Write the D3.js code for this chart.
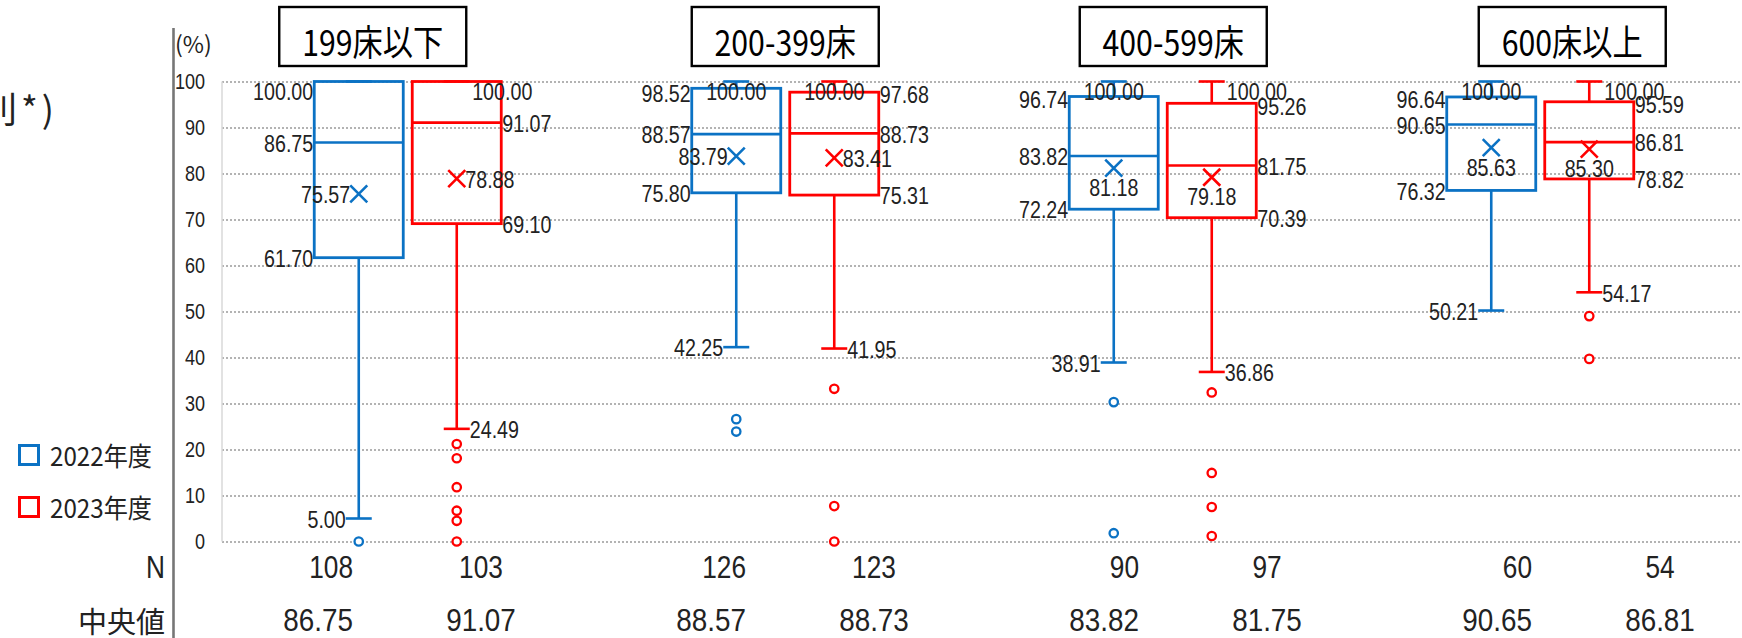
<!DOCTYPE html>
<html>
<head>
<meta charset="utf-8">
<script src="https://cdn.jsdelivr.net/npm/d3@7"></script>
<style>
  body { margin: 0; background: #fff; }
  svg { display: block; }
</style>
</head>
<body>
<svg id="chart" width="1742" height="638"></svg>
<script>
// ---- data ----
const groups = ["199床以下", "200-399床", "400-599床", "600床以上"];
const years = ["2022年度", "2023年度"];
const yTicks = [0, 10, 20, 30, 40, 50, 60, 70, 80, 90, 100];

const high2022   = [100.00, 100.00, 100.00, 100.00];
const q3_2022    = [100.00, 98.52, 96.74, 96.64];
const median2022 = [86.75, 88.57, 83.82, 90.65];
const mean2022   = [75.57, 83.79, 81.18, 85.63];
const q1_2022    = [61.70, 75.80, 72.24, 76.32];
const low2022    = [5.00, 42.25, 38.91, 50.21];
const outliers2022 = [[0.0], [26.6, 23.9], [30.3, 1.8], []];
const n2022 = [108, 126, 90, 60];

const high2023   = [100.00, 100.00, 100.00, 100.00];
const q3_2023    = [100.00, 97.68, 95.26, 95.59];
const median2023 = [91.07, 88.73, 81.75, 86.81];
const mean2023   = [78.88, 83.41, 79.18, 85.30];
const q1_2023    = [69.10, 75.31, 70.39, 78.82];
const low2023    = [24.49, 41.95, 36.86, 54.17];
const outliers2023 = [[21.2, 18.1, 11.8, 6.7, 4.5, 0.0], [33.2, 7.7, 0.0], [32.4, 14.9, 7.5, 1.2], [49.0, 39.7]];
const n2023 = [103, 123, 97, 54];

// ---- label placement ----
const maxPos2022  = ["none", "center", "center", "center"];
const maxPos2023  = ["edge", "center", "right", "right"];
const meanPos2022 = ["left", "left", "below", "below"];
const meanPos2023 = ["right", "right", "below", "below"];
const titleShift  = [-35, 0, 10.5, 32];

// ---- styles ----
const BLUE = "#0b72c4";
const RED = "#ff0000";
const TEXT = "#222";
const NUM_FONT = '"Liberation Sans", Arial, sans-serif';
const JP_FONT = '"Noto Sans CJK JP", "Noto Sans CJK SC", sans-serif';
const K_NUM = 0.82;   // horizontal squeeze for the narrow numerals

const series = [
  { year: years[0], color: BLUE, side: "left",  hi: high2022, q3: q3_2022, med: median2022, mean: mean2022, q1: q1_2022, lo: low2022, out: outliers2022, n: n2022, maxPos: maxPos2022, meanPos: meanPos2022 },
  { year: years[1], color: RED,  side: "right", hi: high2023, q3: q3_2023, med: median2023, mean: mean2023, q1: q1_2023, lo: low2023, out: outliers2023, n: n2023, maxPos: maxPos2023, meanPos: meanPos2023 }
];

const svg = d3.select("#chart");
svg.append("rect").attr("width", 1742).attr("height", 638).attr("fill", "#fff");

const y = d3.scaleLinear().domain([0, 100]).range([541.5, 81.5]);
const x = d3.scaleBand().domain(groups).range([219, 1729]);
const xs = d3.scalePoint().domain(years).range([-49, 49]);
const tableX = d3.scaleBand().domain(groups).range([200, 200 + 4 * 393]);

const BOX_HALF = 44.5, CAP_HALF = 13, XM = 8.5;
const fmt = d3.format(".2f");
const cxOf = (g, yr) => x(g) + x.bandwidth() / 2 + xs(yr);

// gridlines
const grid = svg.append("g").attr("transform", "translate(222,0)")
  .call(d3.axisRight(y).tickValues(yTicks).tickSize(1742 - 222).tickFormat(""));
grid.select(".domain").remove();
grid.selectAll("line").attr("stroke", "#9a9a9a").attr("stroke-width", 1.4).attr("stroke-dasharray", "2,2");

// plot-area left border
svg.append("line").attr("x1", 222).attr("x2", 222).attr("y1", y(100)).attr("y2", y(0))
  .attr("stroke", "#d9d9d9").attr("stroke-width", 1.5);

// main vertical axis line
svg.append("line").attr("x1", 173.5).attr("x2", 173.5).attr("y1", 28).attr("y2", 638)
  .attr("stroke", "#767676").attr("stroke-width", 2.6);

// y tick labels
const yAxis = svg.append("g").attr("transform", "translate(205,0)")
  .call(d3.axisLeft(y).tickValues(yTicks).tickSize(0).tickPadding(0));
yAxis.select(".domain").remove();
yAxis.selectAll("text").attr("font-family", NUM_FONT).attr("font-size", 22).attr("fill", TEXT)
  .attr("transform", `scale(${K_NUM},1)`);

svg.append("text").attr("x", 175).attr("y", 43).attr("dominant-baseline", "central")
  .attr("font-family", JP_FONT).attr("font-size", 23).attr("fill", TEXT).text("(%)");

// heading running in from the left margin
svg.append("text").attr("x", -19).attr("y", 107).attr("dominant-baseline", "central")
  .attr("font-family", JP_FONT).attr("font-size", 36).attr("letter-spacing", 4).attr("fill", TEXT).text("別*)");

// group titles
const titles = svg.append("g").selectAll("g").data(groups).join("g")
  .attr("transform", (g, i) => `translate(${x(g) + x.bandwidth() / 2 + titleShift[i]},36.5)`);
titles.append("rect").attr("x", -93.5).attr("y", -29.5).attr("width", 187).attr("height", 59)
  .attr("fill", "#fff").attr("stroke", "#000").attr("stroke-width", 2.4);
titles.append("text").attr("transform", "translate(0,4) scale(0.84,1)")
  .attr("text-anchor", "middle").attr("dominant-baseline", "central")
  .attr("font-family", JP_FONT).attr("font-size", 36).attr("fill", "#000").text(g => g);

// box plots
series.forEach(s => {
  const layer = svg.append("g").attr("stroke", s.color).attr("fill", "none");
  groups.forEach((g, i) => {
    const cx = cxOf(g, s.year);
    const bg = layer.append("g");
    // whiskers and caps
    bg.append("line").attr("x1", cx).attr("x2", cx).attr("y1", y(s.hi[i])).attr("y2", y(s.q3[i])).attr("stroke-width", 2.6);
    bg.append("line").attr("x1", cx).attr("x2", cx).attr("y1", y(s.q1[i])).attr("y2", y(s.lo[i])).attr("stroke-width", 2.6);
    bg.append("line").attr("x1", cx - CAP_HALF).attr("x2", cx + CAP_HALF).attr("y1", y(s.hi[i])).attr("y2", y(s.hi[i])).attr("stroke-width", 2.6);
    bg.append("line").attr("x1", cx - CAP_HALF).attr("x2", cx + CAP_HALF).attr("y1", y(s.lo[i])).attr("y2", y(s.lo[i])).attr("stroke-width", 2.6);
    // box and median
    bg.append("rect").attr("x", cx - BOX_HALF).attr("width", 2 * BOX_HALF)
      .attr("y", y(s.q3[i])).attr("height", y(s.q1[i]) - y(s.q3[i])).attr("stroke-width", 2.8);
    bg.append("line").attr("x1", cx - BOX_HALF).attr("x2", cx + BOX_HALF).attr("y1", y(s.med[i])).attr("y2", y(s.med[i])).attr("stroke-width", 2.6);
    // mean marker
    const my = y(s.mean[i]);
    bg.append("path").attr("d", `M${cx - XM},${my - XM}L${cx + XM},${my + XM}M${cx - XM},${my + XM}L${cx + XM},${my - XM}`)
      .attr("stroke-width", 2.6);
    // outliers
    bg.selectAll("circle").data(s.out[i]).join("circle")
      .attr("cx", cx).attr("cy", d => y(d)).attr("r", 4.2).attr("fill", "#fff").attr("stroke-width", 2.3);
  });
});

// value labels
const labels = [];
const topY = y(100) + 10;
const ly = v => Math.max(y(v) + 1, topY);
series.forEach(s => {
  groups.forEach((g, i) => {
    const cx = cxOf(g, s.year);
    const left = s.side === "left";
    const bx = left ? cx - BOX_HALF - 1 : cx + BOX_HALF + 1;
    const anchor = left ? "end" : "start";
    const mp = s.maxPos[i];
    if (mp === "center") labels.push({ x: cx, y: ly(s.hi[i]), a: "middle", v: s.hi[i] });
    else if (mp === "right") labels.push({ x: cx + CAP_HALF + 2, y: ly(s.hi[i]), a: "start", v: s.hi[i] });
    else if (mp === "edge") labels.push({ x: cx + BOX_HALF + 1, y: ly(s.hi[i]), a: "middle", v: s.hi[i] });
    if (!(mp === "edge" && s.q3[i] === s.hi[i])) labels.push({ x: bx, y: ly(s.q3[i]) + (s.q3[i] < 99 ? 2 : 0), a: anchor, v: s.q3[i] });
    labels.push({ x: bx, y: ly(s.med[i]), a: anchor, v: s.med[i] });
    labels.push({ x: bx, y: ly(s.q1[i]), a: anchor, v: s.q1[i] });
    labels.push({ x: left ? cx - CAP_HALF : cx + CAP_HALF, y: y(s.lo[i]) + 1, a: anchor, v: s.lo[i] });
    const mp2 = s.meanPos[i];
    if (mp2 === "below") labels.push({ x: cx, y: y(s.mean[i]) + 20, a: "middle", v: s.mean[i] });
    else labels.push({ x: mp2 === "left" ? cx - XM : cx + XM, y: y(s.mean[i]) + 1, a: mp2 === "left" ? "end" : "start", v: s.mean[i] });
  });
});
svg.append("g").selectAll("text").data(labels).join("text")
  .attr("transform", d => `translate(${d.x},${d.y}) scale(${K_NUM},1)`).attr("text-anchor", d => d.a)
  .attr("dominant-baseline", "central").attr("font-family", NUM_FONT).attr("font-size", 24)
  .attr("fill", TEXT).text(d => fmt(d.v));

// table rows: N and median
const rowN = 567, rowMed = 620;
svg.append("text").attr("transform", `translate(165,${rowN}) scale(${K_NUM},1)`).attr("text-anchor", "end")
  .attr("dominant-baseline", "central").attr("font-family", NUM_FONT).attr("font-size", 32).attr("fill", TEXT).text("N");
svg.append("text").attr("x", 165).attr("y", rowMed).attr("text-anchor", "end").attr("dominant-baseline", "central")
  .attr("font-family", JP_FONT).attr("font-size", 29).attr("fill", TEXT).text("中央値");
series.forEach((s, si) => {
  const tx = g => si === 0 ? tableX(g) + 153 : tableX(g) + 281;
  const anchor = si === 0 ? "end" : "middle";
  const t = svg.append("g").attr("font-family", NUM_FONT).attr("font-size", 32).attr("fill", TEXT)
    .attr("text-anchor", anchor).attr("dominant-baseline", "central");
  t.selectAll("text.n").data(groups).join("text").attr("class", "n")
    .attr("transform", g => `translate(${tx(g)},${rowN}) scale(${K_NUM},1)`).text((g, i) => s.n[i]);
  t.selectAll("text.m").data(groups).join("text").attr("class", "m")
    .attr("transform", g => `translate(${tx(g)},${rowMed}) scale(0.87,1)`).text((g, i) => fmt(s.med[i]));
});

// legend
const legend = svg.append("g").selectAll("g").data(series).join("g")
  .attr("transform", (d, i) => `translate(18,${444 + i * 52})`);
legend.append("rect").attr("x", 1.5).attr("y", 1.5).attr("width", 19).attr("height", 19)
  .attr("fill", "none").attr("stroke", d => d.color).attr("stroke-width", 3);
legend.append("text").attr("transform", "translate(32,11) scale(0.93,1)").attr("dominant-baseline", "central")
  .attr("font-family", JP_FONT).attr("font-size", 26).attr("fill", TEXT).text(d => d.year);
</script>
</body>
</html>
